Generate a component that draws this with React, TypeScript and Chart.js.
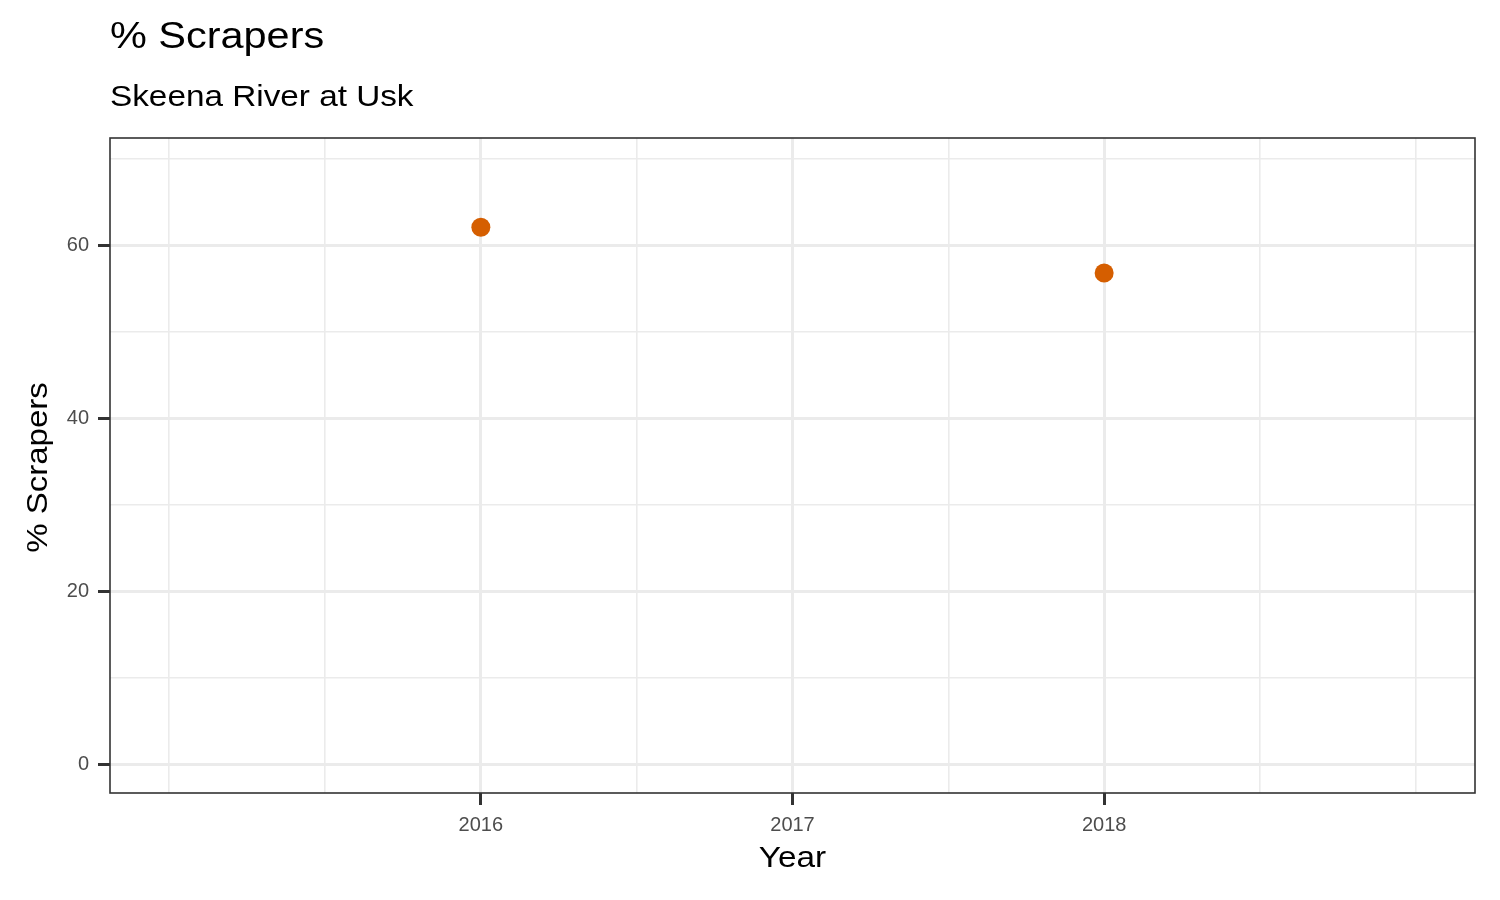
import React, { useEffect, useRef } from "react";
import { Chart, registerables } from "chart.js";

Chart.register(...registerables);

const years = [2016, 2018];
const scrapersPct = [62.1, 56.8];
const xTicks = [2015, 2015.5, 2016, 2016.5, 2017, 2017.5, 2018, 2018.5, 2019];
const xMajor = [2016, 2017, 2018];
const yTicks = [0, 10, 20, 30, 40, 50, 60, 70];
const yMajor = [0, 20, 40, 60];
const titleText = "% Scrapers";
const subtitleText = "Skeena River at Usk";
const xTitle = "Year";
const yTitle = "% Scrapers";

const FONT = "'Liberation Sans', Arial, Helvetica, sans-serif";

function wideText(ctx: any, text: string, x: number, y: number, stretch: number, align: string) {
  ctx.save();
  ctx.translate(x, y);
  ctx.scale(stretch, 1);
  ctx.textAlign = align;
  ctx.fillText(text, 0, 0);
  ctx.restore();
}

const panelPlugin = {
  id: "panelDecor",
  afterDraw(chart: any) {
    const { ctx, chartArea } = chart;
    ctx.save();
    ctx.strokeStyle = "#333333";
    ctx.lineWidth = 1.6;
    ctx.strokeRect(chartArea.left, chartArea.top, chartArea.right - chartArea.left, chartArea.bottom - chartArea.top);
    ctx.fillStyle = "#000000";
    ctx.textBaseline = "alphabetic";
    ctx.font = `37px ${FONT}`;
    wideText(ctx, titleText, 110, 48, 1.12, "left");
    ctx.font = `30px ${FONT}`;
    wideText(ctx, subtitleText, 110, 106, 1.11, "left");
    // axis titles
    ctx.font = `30px ${FONT}`;
    ctx.textBaseline = "middle";
    const cx = (chartArea.left + chartArea.right) / 2;
    wideText(ctx, xTitle, cx, 859, 1.11, "center");
    ctx.save();
    ctx.translate(39, (chartArea.top + chartArea.bottom) / 2 + 2);
    ctx.rotate(-Math.PI / 2);
    wideText(ctx, yTitle, 0, 0, 1.1, "center");
    ctx.restore();
    ctx.restore();
  },
};

export default function App() {
  const canvasRef = useRef<HTMLCanvasElement | null>(null);

  useEffect(() => {
    if (!canvasRef.current) return;
    const chart = new Chart(canvasRef.current, {
      type: "scatter",
      data: {
        datasets: [
          {
            label: yTitle,
            data: years.map((x, i) => ({ x, y: scrapersPct[i] })),
            backgroundColor: "#D55E00",
            borderWidth: 0,
            pointRadius: 9.5,
            pointHoverRadius: 9.5,
          },
        ],
      },
      options: {
        animation: false,
        responsive: true,
        maintainAspectRatio: false,
        layout: { padding: { top: 138, right: 25, left: 0, bottom: 0 } },
        plugins: {
          legend: { display: false },
          tooltip: { enabled: false },
          title: { display: false },
        },
        scales: {
          x: {
            type: "linear",
            min: 2014.81,
            max: 2019.19,
            afterBuildTicks: (scale: any) => {
              scale.ticks = xTicks.map((v) => ({ value: v }));
            },
            afterFit: (scale: any) => {
              scale.height = 107;
            },
            border: { display: false },
            grid: {
              color: "#EBEBEB",
              lineWidth: (c: any) => (xMajor.includes(c.tick?.value) ? 3 : 1.6),
              drawTicks: true,
              tickLength: 12,
              tickWidth: 3,
              tickColor: (c: any) => (xMajor.includes(c.tick?.value) ? "#333333" : "rgba(0,0,0,0)"),
            },
            ticks: {
              autoSkip: false,
              maxRotation: 0,
              padding: 8,
              color: "#4D4D4D",
              font: { family: FONT, size: 20 },
              callback: (v: any) => (xMajor.includes(Number(v)) ? String(v) : ""),
            },
            title: { display: false },
          },
          y: {
            type: "linear",
            min: -3.25,
            max: 72.4,
            afterBuildTicks: (scale: any) => {
              scale.ticks = yTicks.map((v) => ({ value: v }));
            },
            afterFit: (scale: any) => {
              scale.width = 110;
            },
            border: { display: false },
            grid: {
              color: "#EBEBEB",
              lineWidth: (c: any) => (yMajor.includes(c.tick?.value) ? 3 : 1.6),
              drawTicks: true,
              tickLength: 12,
              tickWidth: 3,
              tickColor: (c: any) => (yMajor.includes(c.tick?.value) ? "#333333" : "rgba(0,0,0,0)"),
            },
            ticks: {
              autoSkip: false,
              padding: 9,
              color: "#4D4D4D",
              font: { family: FONT, size: 20 },
              callback: (v: any) => (yMajor.includes(Number(v)) ? String(v) : ""),
            },
            title: { display: false },
          },
        },
      },
      plugins: [panelPlugin],
    });
    return () => chart.destroy();
  }, []);

  return (
    <div style={{ position: "fixed", left: 0, top: 0, width: 1500, height: 900, background: "#ffffff" }}>
      <canvas ref={canvasRef} />
    </div>
  );
}
